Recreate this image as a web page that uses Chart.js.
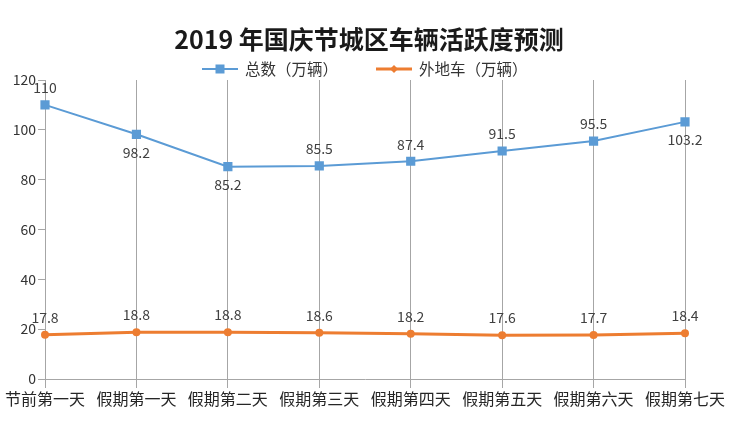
<!DOCTYPE html>
<html>
<head>
<meta charset="utf-8">
<script src="https://cdn.jsdelivr.net/npm/chart.js"></script>
<style>
  html, body { margin: 0; padding: 0; background: #fff; }
  #wrap { width: 738px; height: 422px; }
</style>
</head>
<body>
<div id="wrap"><canvas id="chart" width="738" height="422"></canvas></div>
<script>
const FONT = "'Noto Sans CJK SC', 'Noto Sans', sans-serif";

const TITLE = "2019 年国庆节城区车辆活跃度预测";
const CATEGORIES = ["节前第一天", "假期第一天", "假期第二天", "假期第三天", "假期第四天", "假期第五天", "假期第六天", "假期第七天"];
const TOTAL_LABEL = "总数（万辆）";
const TOTAL = [110, 98.2, 85.2, 85.5, 87.4, 91.5, 95.5, 103.2];
const OUTSIDE_LABEL = "外地车（万辆）";
const OUTSIDE = [17.8, 18.8, 18.8, 18.6, 18.2, 17.6, 17.7, 18.4];
const Y_TICKS = [0, 20, 40, 60, 80, 100, 120];

// where each value label sits relative to its point
const TOTAL_LABEL_POS = ["above", "below", "below", "above", "above", "above", "above", "below"];

const BLUE = "#5b9bd5";
const ORANGE = "#ed7d31";

const valueLabels = {
  id: "valueLabels",
  afterDatasetsDraw(chart) {
    const { ctx } = chart;
    ctx.save();
    ctx.font = "14px " + FONT;
    ctx.fillStyle = "#404040";
    ctx.textAlign = "center";
    ctx.textBaseline = "middle";
    chart.data.datasets.forEach((ds, di) => {
      const meta = chart.getDatasetMeta(di);
      meta.data.forEach((pt, i) => {
        let pos = di === 0 ? TOTAL_LABEL_POS[i] : "above";
        const dy = pos === "above" ? -17 : 18;
        ctx.fillText(String(ds.data[i]), pt.x, pt.y + dy);
      });
    });
    ctx.restore();
  },
};

const header = {
  id: "header",
  afterDraw(chart) {
    const { ctx } = chart;
    ctx.save();
    ctx.fillStyle = "#1a1a1a";
    ctx.font = "bold 25px " + FONT;
    ctx.textAlign = "center";
    ctx.textBaseline = "middle";
    ctx.fillText(TITLE, 369, 39);

    // legend
    ctx.font = "15.5px " + FONT;
    ctx.textAlign = "left";
    const items = [
      { x: 202, text: TOTAL_LABEL, color: BLUE, shape: "rect" },
      { x: 376, text: OUTSIDE_LABEL, color: ORANGE, shape: "diamond" },
    ];
    const y = 69;
    items.forEach((it) => {
      ctx.strokeStyle = it.color;
      ctx.fillStyle = it.color;
      ctx.lineWidth = it.shape === "rect" ? 2 : 3;
      ctx.beginPath();
      ctx.moveTo(it.x, y);
      ctx.lineTo(it.x + 36, y);
      ctx.stroke();
      const cx = it.x + 18;
      if (it.shape === "rect") {
        ctx.fillRect(cx - 4.5, y - 4.5, 9, 9);
      } else {
        ctx.beginPath();
        ctx.moveTo(cx, y - 4);
        ctx.lineTo(cx + 4, y);
        ctx.lineTo(cx, y + 4);
        ctx.lineTo(cx - 4, y);
        ctx.closePath();
        ctx.fill();
      }
      ctx.fillStyle = "#333";
      ctx.fillText(it.text, it.x + 43, y);
    });
    ctx.restore();
  },
};

new Chart(document.getElementById("chart"), {
  type: "line",
  data: {
    labels: CATEGORIES,
    datasets: [
      {
        label: TOTAL_LABEL,
        data: TOTAL,
        borderColor: BLUE,
        backgroundColor: BLUE,
        borderWidth: 2,
        pointStyle: "rect",
        pointRadius: 6.5,
        pointBorderWidth: 0,
        tension: 0,
      },
      {
        label: OUTSIDE_LABEL,
        data: OUTSIDE,
        borderColor: ORANGE,
        backgroundColor: ORANGE,
        borderWidth: 3,
        pointStyle: "circle",
        pointRadius: 4,
        pointBorderWidth: 0,
        tension: 0,
      },
    ],
  },
  options: {
    responsive: false,
    animation: false,
    devicePixelRatio: 1,
    layout: { padding: { top: 80, right: 53, left: 0, bottom: 0 } },
    plugins: {
      legend: { display: false },
      title: { display: false },
      tooltip: { enabled: false },
    },
    scales: {
      x: {
        offset: false,
        afterFit: (s) => { s.height = 43; },
        grid: {
          color: "#a6a6a6",
          lineWidth: 1,
          tickLength: 9,
          drawOnChartArea: true,
        },
        border: { color: "#a6a6a6" },
        ticks: {
          color: "#262626",
          font: { size: 16, family: FONT },
          maxRotation: 0,
          autoSkip: false,
          padding: 1,
        },
      },
      y: {
        min: 0,
        max: 120,
        afterFit: (s) => { s.width = 45; },
        afterBuildTicks: (s) => { s.ticks = Y_TICKS.map((v) => ({ value: v })); },
        grid: {
          drawOnChartArea: false,
          color: "#a6a6a6",
          tickLength: 7,
        },
        border: { display: false },
        ticks: {
          color: "#333",
          font: { size: 14, family: FONT },
          padding: 2,
        },
      },
    },
  },
  plugins: [valueLabels, header],
});
</script>
</body>
</html>
